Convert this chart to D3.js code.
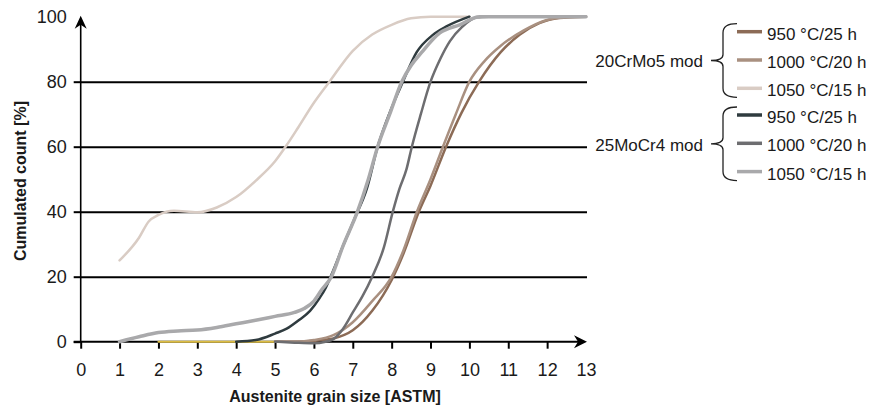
<!DOCTYPE html>
<html>
<head>
<meta charset="utf-8">
<script src="https://cdn.jsdelivr.net/npm/d3@7"></script>
<style>
  body { margin: 0; background: #fff; }
  text { font-family: "Liberation Sans", Arial, sans-serif; fill: #1a1a1a; }
</style>
</head>
<body>
<div id="chart"></div>
<script>
// tick labels
const xTicks = [0, 1, 2, 3, 4, 5, 6, 7, 8, 9, 10, 11, 12, 13];
const yTicks = [0, 20, 40, 60, 80, 100];
const gridTicks = [20, 40, 60, 80];

// legend text
const steels = ["20CrMo5 mod", "25MoCr4 mod"];
const treatments = ["950 °C/25 h", "1000 °C/20 h", "1050 °C/15 h"];

// [ASTM grain size, cumulated count %]
const crMo950 = [[5, 0], [5.5, 0], [6, 0.3], [6.5, 1], [7, 3.5], [7.5, 9.5], [8, 19], [8.3, 27],
  [8.7, 40], [9, 48], [9.4, 60], [9.8, 70.5], [10.25, 80], [10.8, 89], [11.3, 94.5], [11.8, 98],
  [12.3, 99.6], [13, 100]];
const crMo1000 = [[5, 0], [5.5, 0], [6, 0.5], [6.5, 2], [7, 6], [7.5, 12.5], [8, 20], [8.3, 28],
  [8.65, 40], [9, 50], [9.32, 60], [9.65, 70], [10, 80], [10.4, 86.5], [10.8, 91], [11.4, 95.8],
  [12, 99], [12.5, 99.8], [13, 100]];
const crMo1050 = [[1, 25], [1.5, 32], [1.75, 37], [2, 39], [2.4, 40.3], [3, 39.8], [3.5, 41.3],
  [4, 44.5], [4.5, 49.5], [5, 55.5], [5.3, 60.5], [5.6, 66], [6, 73.5], [6.4, 80], [7, 89.5],
  [7.5, 94.5], [8, 97.5], [8.5, 99.5], [9, 100], [10, 100]];
const moCr950 = [[4, 0], [4.5, 0.5], [5, 2.5], [5.3, 4], [5.6, 6.5], [5.9, 9.5], [6.15, 13.5],
  [6.3, 16.5], [6.5, 22], [6.75, 29.5], [7.05, 38], [7.36, 47], [7.64, 60], [7.95, 70.5],
  [8.29, 80], [8.64, 89], [9.06, 94.4], [9.41, 97], [10, 100]];
const moCr1000 = [[5, 0], [5.5, -0.3], [6, -0.5], [6.3, 0], [6.5, 0.8], [6.75, 4], [7, 9],
  [7.25, 14], [7.5, 20], [7.8, 29], [8.03, 40], [8.2, 47], [8.38, 53], [8.52, 60], [8.75, 70],
  [9, 80], [9.25, 87], [9.5, 92.5], [9.8, 96.7], [10.2, 99.8], [10.5, 100]];
const moCr1050 = [[1, 0], [1.5, 1.5], [2, 2.8], [2.5, 3.3], [3, 3.6], [3.5, 4.4], [4, 5.5],
  [4.5, 6.6], [5, 7.8], [5.5, 9], [5.75, 10.2], [6, 12.5], [6.2, 16], [6.45, 20], [6.75, 29.5],
  [7.12, 40], [7.4, 50], [7.64, 60], [7.95, 70], [8.26, 80], [8.5, 85], [8.77, 89], [9.24, 95],
  [9.75, 97.5], [10.26, 100], [13, 100]];
const baseMark = [[2, 0], [5, 0]];

const series = [
  { name: "baseMark", values: baseMark, color: "#dcbd45", width: 2 },
  { name: "crMo1050", values: crMo1050, color: "#d9ccc4", width: 2.5 },
  { name: "crMo950", values: crMo950, color: "#8c6b56", width: 2.5 },
  { name: "crMo1000", values: crMo1000, color: "#a99080", width: 2.5 },
  { name: "moCr1000", values: moCr1000, color: "#6d6d70", width: 2.5 },
  { name: "moCr950", values: moCr950, color: "#2f3b3f", width: 2.5 },
  { name: "moCr1050", values: moCr1050, color: "#a9a9ab", width: 3.5 },
];

const legendColors = [
  ["#8c6b56", "#a99080", "#d9ccc4"],
  ["#2f3b3f", "#6d6d70", "#a9a9ab"],
];

const margin = { top: 16.7, left: 80.7 },
  width = 505.3,
  height = 325;

const svg = d3
  .select("#chart")
  .append("svg")
  .attr("width", 887)
  .attr("height", 409);

const g = svg
  .append("g")
  .attr("transform", "translate(" + margin.left + "," + margin.top + ")");

const x = d3.scaleLinear().domain([0, 13]).range([0, width]);
const y = d3.scaleLinear().domain([0, 100]).range([height, 0]);

// gridlines
const grid = g
  .append("g")
  .call(d3.axisLeft(y).tickValues(gridTicks).tickSize(-width - 1).tickFormat(""));
grid.select(".domain").remove();
grid.selectAll("line").attr("stroke", "#000").attr("stroke-width", 2);

// y axis
const yAxisG = g
  .append("g")
  .call(d3.axisLeft(y).tickValues(yTicks).tickSize(7).tickPadding(7));
yAxisG.select(".domain").remove();
yAxisG.selectAll("line").attr("stroke", "#000").attr("stroke-width", 2)
  .filter((d) => d === 100).remove();
yAxisG.selectAll("text").style("font-size", "18px").attr("fill", "#1a1a1a");

// x axis
const xAxisG = g
  .append("g")
  .attr("transform", "translate(0," + height + ")")
  .call(d3.axisBottom(x).tickValues(xTicks).tickSize(7).tickPadding(15));
xAxisG.select(".domain").remove();
xAxisG.selectAll("line").attr("stroke", "#000").attr("stroke-width", 2)
  .filter((d) => d === 13).remove();
xAxisG.selectAll("text").style("font-size", "18px").attr("fill", "#1a1a1a");

// axis lines with arrow heads
g.append("line")
  .attr("x1", -7).attr("x2", width - 4)
  .attr("y1", height).attr("y2", height)
  .attr("stroke", "#000").attr("stroke-width", 2);
g.append("line")
  .attr("x1", 0).attr("x2", 0)
  .attr("y1", height).attr("y2", 4)
  .attr("stroke", "#000").attr("stroke-width", 1.6);
g.append("path")
  .attr("d", `M${width + 1},${height} L${width - 12},${height - 6.5} L${width - 8},${height} L${width - 12},${height + 6.5} Z`)
  .attr("fill", "#000");
g.append("path")
  .attr("d", "M0,-1 L-6,12 L0,8 L6,12 Z")
  .attr("fill", "#000");

// curves
const line = d3
  .line()
  .x((d) => x(d[0]))
  .y((d) => y(d[1]))
  .curve(d3.curveMonotoneX);

g.selectAll(".curve")
  .data(series)
  .enter()
  .append("path")
  .attr("class", "curve")
  .attr("d", (d) => line(d.values))
  .attr("fill", "none")
  .attr("stroke", (d) => d.color)
  .attr("stroke-width", (d) => d.width)
  .attr("stroke-linejoin", "round")
  .attr("stroke-linecap", "round");

// axis titles
svg.append("text")
  .attr("transform", "translate(26,181) rotate(-90)")
  .attr("text-anchor", "middle")
  .style("font-size", "16px")
  .style("font-weight", "bold")
  .text("Cumulated count [%]");

svg.append("text")
  .attr("x", 335)
  .attr("y", 402)
  .attr("text-anchor", "middle")
  .style("font-size", "16px")
  .style("font-weight", "bold")
  .text("Austenite grain size [ASTM]");

// legend
const legend = svg.append("g");
const rowStep = 28.3,
  groupStep = 83.3,
  firstRow = 31.7;

steels.forEach((steel, i) => {
  const top = firstRow + i * groupStep;
  const yTop = top - 8,
    yBot = top + 2 * rowStep + 9,
    yMid = (yTop + yBot) / 2;

  legend.append("path")
    .attr("d", `M737,${yTop} Q723,${yTop} 723,${yTop + 9} L723,${yMid - 6} Q723,${yMid} 711,${yMid}` +
      ` Q723,${yMid} 723,${yMid + 6} L723,${yBot - 9} Q723,${yBot} 737,${yBot}`)
    .attr("fill", "none")
    .attr("stroke", "#222")
    .attr("stroke-width", 1.3);

  legend.append("text")
    .attr("x", 703)
    .attr("y", yMid + 1)
    .attr("dy", "0.35em")
    .attr("text-anchor", "end")
    .style("font-size", "17px")
    .text(steel);

  treatments.forEach((t, j) => {
    const ly = top + j * rowStep;
    legend.append("line")
      .attr("x1", 737).attr("x2", 762)
      .attr("y1", ly).attr("y2", ly)
      .attr("stroke", legendColors[i][j])
      .attr("stroke-width", 3.5);
    legend.append("text")
      .attr("x", 767)
      .attr("y", ly + 2)
      .attr("dy", "0.35em")
      .style("font-size", "17px")
      .text(t);
  });
});
</script>
</body>
</html>
